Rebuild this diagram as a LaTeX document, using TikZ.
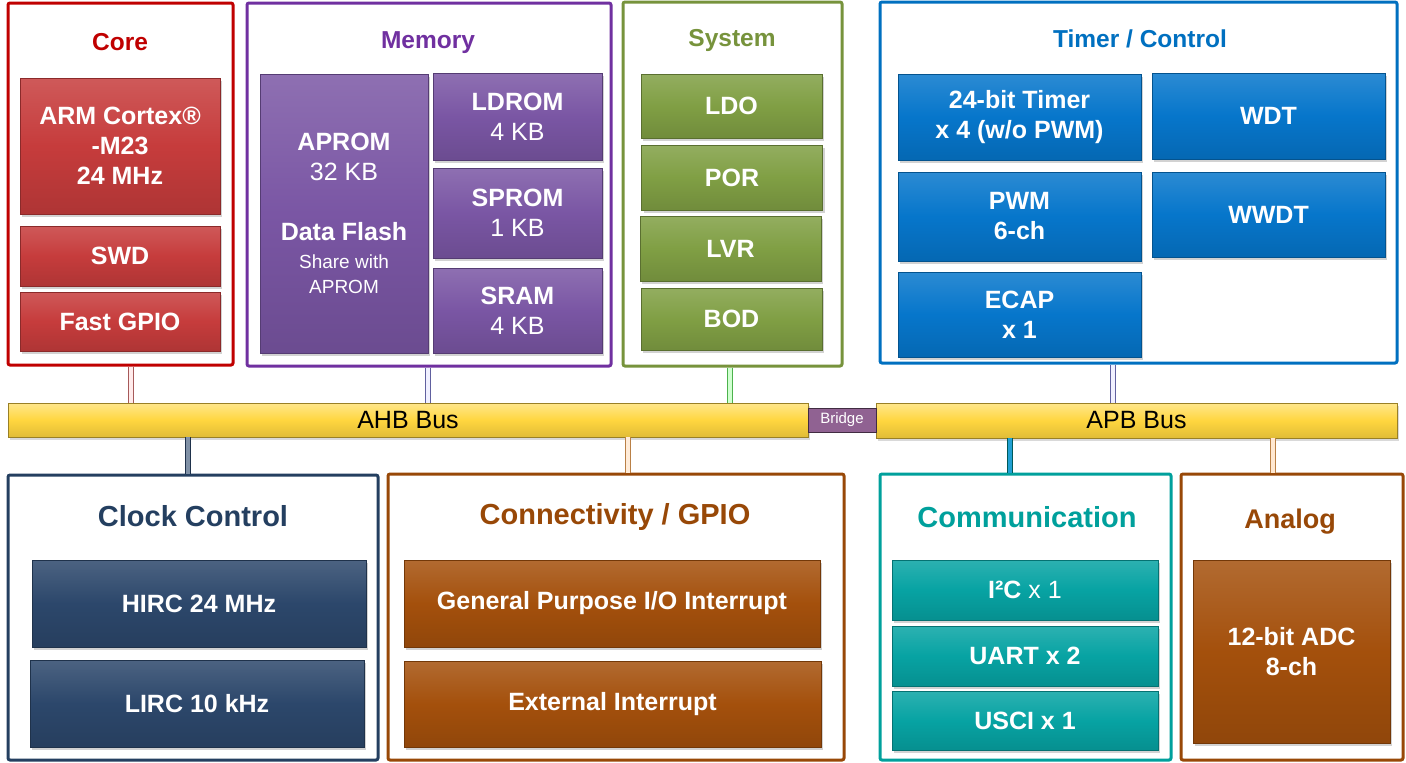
\documentclass[tikz,border=0pt]{standalone}
\usepackage{fontspec}
\setmainfont{Liberation Sans}
\usepackage{xcolor}
\usetikzlibrary{shadows}

\definecolor{coreRed}{HTML}{C00000}
\definecolor{memPurple}{HTML}{7030A0}
\definecolor{sysGreen}{HTML}{77933C}
\definecolor{tmrBlue}{HTML}{0070C0}
\definecolor{clkNavy}{HTML}{243F60}
\definecolor{conBrown}{HTML}{984807}
\definecolor{comTeal}{HTML}{00A09C}

\definecolor{redFill}{HTML}{C63C3C}
\definecolor{purFill}{HTML}{7A56A4}
\definecolor{grnFill}{HTML}{809F44}
\definecolor{bluFill}{HTML}{0676CB}
\definecolor{navFill}{HTML}{2C476B}
\definecolor{brnFill}{HTML}{A4500C}
\definecolor{tealFill}{HTML}{07A3A3}
\definecolor{busYellow}{HTML}{FFD63F}
\definecolor{bridgeFill}{HTML}{906292}

\newcommand\blkfont{\fontsize{25}{30}\selectfont\bfseries}
\newcommand\topfont{\fontsize{24.5}{28}\selectfont\bfseries}
\newcommand\botfont{\fontsize{29}{32}\selectfont\bfseries}
\newcommand\notefont{\mdseries\fontsize{19}{25}\selectfont}

\begin{document}
\begin{tikzpicture}[
    x=1pt, y=-1pt,
    grp/.style={draw=#1, line width=3, rounded corners=2, fill=white},
    blk/.style={rectangle, draw=#1!70!black, line width=0.7,
        top color=#1!85!white, bottom color=#1!88!black, middle color=#1,
        text=white, font=\blkfont, align=center,
        drop shadow={opacity=0.35, shadow xshift=2pt, shadow yshift=-3pt}},
    bus/.style={rectangle, draw=busYellow!60!black, line width=0.7,
        top color=busYellow!60!white, bottom color=busYellow!88!black, middle color=busYellow,
        font=\fontsize{25}{28}\selectfont,
        drop shadow={opacity=0.3, shadow xshift=2pt, shadow yshift=-3pt}},
    link/.style 2 args={draw=#1, line width=1, double=#2, double distance=3.6}
]

\useasboundingbox (0,0) rectangle (1406,763);

% Gruppen oben
\node[grp=coreRed, minimum width=225, minimum height=362] (core) at (120.5,184) {};
\node[grp=memPurple, minimum width=364, minimum height=363] (memory) at (429,184.5) {};
\node[grp=sysGreen, minimum width=219, minimum height=364] (system) at (732.5,184) {};
\node[grp=tmrBlue, minimum width=517, minimum height=361] (timer) at (1138.5,182.5) {};

% Gruppen unten
\node[grp=clkNavy, minimum width=370, minimum height=285] (clock) at (193,617.5) {};
\node[grp=conBrown, minimum width=456, minimum height=286] (conn) at (616,617) {};
\node[grp=comTeal, minimum width=291, minimum height=286] (comm) at (1025.5,617) {};
\node[grp=conBrown, minimum width=222, minimum height=286] (analog) at (1292,617) {};

% Titel
\node[font=\topfont, text=coreRed, anchor=base] at (120,50) {Core};
\node[font=\topfont, text=memPurple, anchor=base] at (428,48) {Memory};
\node[font=\topfont, text=sysGreen, anchor=base] at (732,46) {System};
\node[font=\topfont, text=tmrBlue, anchor=base] at (1140,47) {Timer / Control};
\node[font=\botfont, text=clkNavy, anchor=base] at (193,526) {Clock Control};
\node[font=\botfont, text=conBrown, anchor=base] at (615,524) {Connectivity / GPIO};
\node[font=\botfont, text=comTeal, anchor=base] at (1027,527) {Communication};
\node[font=\fontsize{27}{30}\selectfont\bfseries, text=conBrown, anchor=base] at (1290,528) {Analog};

% Core
\node[blk=redFill, minimum width=200, minimum height=136] (arm) at (120,146) {ARM Cortex®\\-M23\\24 MHz};
\node[blk=redFill, minimum width=200, minimum height=60] (swd) at (120,256) {SWD};
\node[blk=redFill, minimum width=200, minimum height=59] (fgpio) at (120,321.5) {Fast GPIO};

% Memory
\node[blk=purFill, minimum width=168, minimum height=279] (aprom) at (344,213.5)
    {APROM\\{\mdseries 32 KB}\\[30pt]Data Flash\\[-2pt]
     {\notefont Share with}\\[-5pt]{\notefont APROM}};
\node[blk=purFill, minimum width=169, minimum height=87] (ldrom) at (517.5,116.5) {LDROM\\{\mdseries 4 KB}};
\node[blk=purFill, minimum width=169, minimum height=90] (sprom) at (517.5,213) {SPROM\\{\mdseries 1 KB}};
\node[blk=purFill, minimum width=169, minimum height=85] (sram) at (517.5,310.5) {SRAM\\{\mdseries 4 KB}};

% System
\node[blk=grnFill, minimum width=181, minimum height=64] (ldo) at (731.5,106) {LDO};
\node[blk=grnFill, minimum width=181, minimum height=65] (por) at (732,177.5) {POR};
\node[blk=grnFill, minimum width=181, minimum height=65] (lvr) at (730.5,248.5) {LVR};
\node[blk=grnFill, minimum width=181, minimum height=62] (bod) at (731.5,319) {BOD};

% Timer / Control
\node[blk=bluFill, minimum width=243, minimum height=86] (tmr) at (1019.5,117) {24-bit Timer\\x 4 (w/o PWM)};
\node[blk=bluFill, minimum width=233, minimum height=86] (wdt) at (1268.5,116) {WDT};
\node[blk=bluFill, minimum width=243, minimum height=89] (pwm) at (1019.5,216.5) {PWM\\6-ch};
\node[blk=bluFill, minimum width=233, minimum height=85] (wwdt) at (1268.5,214.5) {WWDT};
\node[blk=bluFill, minimum width=243, minimum height=85] (ecap) at (1019.5,314.5) {ECAP\\x 1};

% Clock Control
\node[blk=navFill, minimum width=334, minimum height=87] (hirc) at (199,603.5) {HIRC 24 MHz};
\node[blk=navFill, minimum width=334, minimum height=87] (lirc) at (197,703.5) {LIRC 10 kHz};

% Connectivity / GPIO
\node[blk=brnFill, minimum width=416, minimum height=87] (gpint) at (612,603.5) {General Purpose I/O Interrupt};
\node[blk=brnFill, minimum width=417, minimum height=86] (extint) at (612.5,704) {External Interrupt};

% Communication
\node[blk=tealFill, minimum width=266, minimum height=60] (i2c) at (1025,590) {I²C {\mdseries x 1}};
\node[blk=tealFill, minimum width=266, minimum height=60] (uart) at (1025,656) {UART x 2};
\node[blk=tealFill, minimum width=266, minimum height=59] (usci) at (1025,720.5) {USCI x 1};

% Analog
\node[blk=brnFill, minimum width=197, minimum height=183] (adc) at (1291.5,651.5) {12-bit ADC\\8-ch};

% Busse
\node[bus, minimum width=800, minimum height=34] (ahb) at (408,420) {AHB Bus};
\node[bus, minimum width=521, minimum height=35] (apb) at (1136.5,420.5) {APB Bus};
\node[rectangle, draw=bridgeFill!45!black, line width=1, fill=bridgeFill, text=white,
    font=\fontsize{15}{18}\selectfont, minimum width=68, minimum height=24,
    inner sep=0] (bridge) at (842,420) {Bridge};

% Verbindungen zu den Bussen
\coordinate (xcore) at (131,0);
\coordinate (xmem) at (428,0);
\coordinate (xsys) at (730,0);
\coordinate (xtmr) at (1113,0);
\coordinate (xclk) at (188,0);
\coordinate (xcon) at (628,0);
\coordinate (xcom) at (1010,0);
\coordinate (xana) at (1273,0);

\draw[link={red!30!gray}{red!8}] (core.south -| xcore) -- (ahb.north -| xcore);
\draw[link={blue!25!gray}{blue!6}] (memory.south -| xmem) -- (ahb.north -| xmem);
\draw[link={green!40!gray}{green!18}] (system.south -| xsys) -- (ahb.north -| xsys);
\draw[link={blue!25!gray}{blue!6}] (timer.south -| xtmr) -- (apb.north -| xtmr);
\draw[link={navFill!70!black}{navFill!60!white}] (ahb.south -| xclk) -- (clock.north -| xclk);
\draw[link={orange!45!gray}{orange!15}] (ahb.south -| xcon) -- (conn.north -| xcon);
\draw[link={teal!70!black}{cyan!70!teal}] (apb.south -| xcom) -- (comm.north -| xcom);
\draw[link={orange!45!gray}{orange!18}] (apb.south -| xana) -- (analog.north -| xana);

\end{tikzpicture}
\end{document}
